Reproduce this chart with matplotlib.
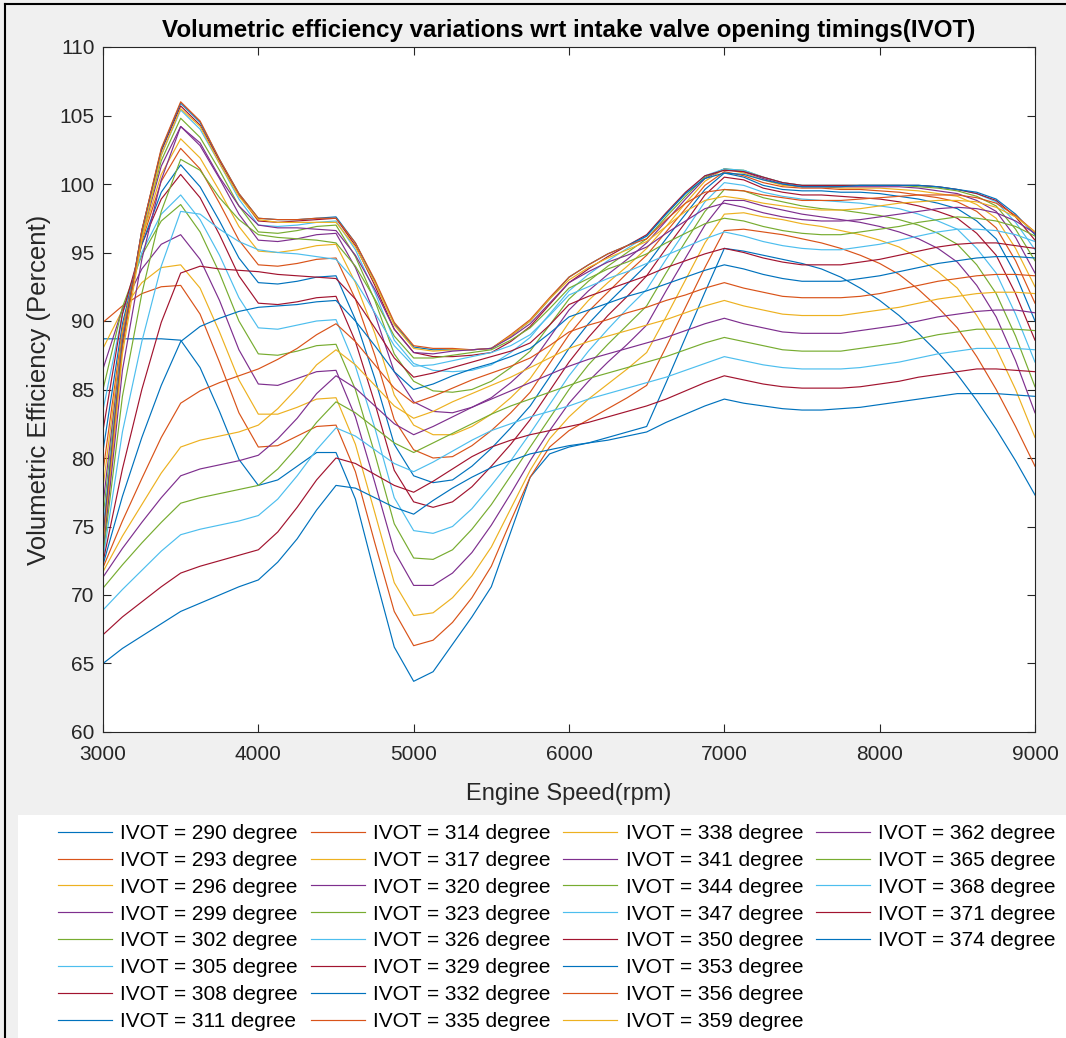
import matplotlib
matplotlib.use("Agg")
import matplotlib.pyplot as plt
from matplotlib.lines import Line2D
from matplotlib.patches import Rectangle

plt.rcParams['font.family'] = ['Liberation Sans', 'DejaVu Sans']

# engine speed grid (rpm), 125 rpm steps
rpm = list(range(3000, 9001, 125))

ivot = list(range(290, 375, 3))

# volumetric efficiency (%) for each intake valve opening timing
ve_290 = [88.7, 88.7, 88.7, 88.7, 88.6, 86.6, 83.4, 79.9, 78.0, 78.4, 79.4, 80.4, 80.4, 77.0, 71.5, 66.2, 63.7,
          64.4, 66.4, 68.4, 70.6, 74.6, 78.6, 80.3, 80.8, 81.1, 81.5, 81.9, 82.3, 85.5, 88.8, 92.1, 95.3,
          95.1, 94.8, 94.5, 94.2, 93.8, 93.2, 92.4, 91.5, 90.4, 89.1, 87.7, 86.1, 84.2, 82.1, 79.8, 77.3]
ve_293 = [89.9, 91.1, 92.0, 92.5, 92.6, 90.5, 87.0, 83.3, 80.8, 80.9, 81.6, 82.3, 82.4, 79.0, 73.8, 68.8, 66.3,
          66.7, 68.0, 69.8, 72.1, 75.4, 78.6, 80.8, 82.0, 82.8, 83.6, 84.4, 85.3, 88.1, 91.0, 93.9, 96.6,
          96.7, 96.5, 96.3, 96.0, 95.7, 95.3, 94.8, 94.2, 93.4, 92.3, 91.0, 89.5, 87.4, 85.0, 82.3, 79.4]
ve_296 = [88.0, 90.8, 92.8, 93.9, 94.1, 92.4, 89.2, 85.7, 83.2, 83.2, 83.7, 84.3, 84.4, 81.0, 76.0, 70.9, 68.5,
          68.7, 69.8, 71.4, 73.5, 76.3, 79.1, 81.4, 83.0, 84.3, 85.4, 86.5, 87.7, 90.3, 93.0, 95.7, 97.8,
          97.9, 97.6, 97.4, 97.1, 96.9, 96.6, 96.3, 95.9, 95.4, 94.6, 93.6, 92.4, 90.4, 88.0, 85.0, 81.5]
ve_299 = [86.5, 90.9, 93.8, 95.6, 96.3, 94.5, 91.5, 87.9, 85.4, 85.3, 85.8, 86.3, 86.4, 83.0, 78.2, 73.2, 70.7,
          70.7, 71.6, 73.1, 75.1, 77.4, 79.8, 82.0, 84.0, 85.6, 87.0, 88.3, 89.7, 92.2, 94.6, 97.0, 98.8,
          98.8, 98.4, 98.1, 97.8, 97.6, 97.4, 97.2, 96.9, 96.5, 96.0, 95.3, 94.3, 92.6, 90.3, 87.1, 83.3]
ve_302 = [85.0, 91.0, 94.8, 97.3, 98.5, 96.5, 93.5, 90.0, 87.6, 87.5, 87.8, 88.2, 88.3, 85.0, 80.3, 75.2, 72.7,
          72.6, 73.3, 74.8, 76.6, 78.7, 80.8, 82.9, 85.0, 86.8, 88.3, 89.7, 91.1, 93.5, 95.8, 98.0, 99.6,
          99.5, 99.0, 98.7, 98.4, 98.2, 98.1, 97.9, 97.7, 97.4, 97.0, 96.4, 95.6, 94.1, 92.0, 88.9, 85.2]
ve_305 = [83.5, 90.5, 95.0, 97.8, 99.2, 97.4, 94.8, 91.7, 89.5, 89.4, 89.7, 90.0, 90.1, 86.7, 82.2, 77.1, 74.7,
          74.5, 75.0, 76.3, 78.0, 79.8, 81.8, 83.9, 86.0, 87.8, 89.4, 90.9, 92.3, 94.5, 96.6, 98.7, 100.1,
          99.9, 99.4, 99.1, 98.9, 98.8, 98.7, 98.6, 98.4, 98.2, 97.8, 97.3, 96.7, 95.3, 93.5, 90.5, 87.0]
ve_308 = [82.0, 90.5, 95.6, 98.9, 100.7, 99.0, 96.3, 93.3, 91.3, 91.2, 91.4, 91.7, 91.8, 88.5, 84.0, 79.1, 76.8,
          76.4, 76.8, 77.9, 79.4, 81.0, 82.8, 84.9, 87.0, 88.8, 90.4, 91.8, 93.3, 95.3, 97.2, 99.2, 100.5,
          100.3, 99.7, 99.4, 99.2, 99.2, 99.1, 99.0, 98.9, 98.7, 98.4, 98.0, 97.5, 96.4, 94.8, 92.0, 88.6]
ve_311 = [80.5, 89.8, 95.6, 99.4, 101.4, 99.8, 97.3, 94.6, 92.8, 92.7, 92.9, 93.2, 93.3, 90.1, 85.8, 81.0, 78.7,
          78.2, 78.4, 79.4, 80.7, 82.2, 83.8, 85.9, 88.0, 89.8, 91.3, 92.7, 94.1, 96.0, 97.8, 99.6, 100.8,
          100.5, 99.9, 99.6, 99.5, 99.5, 99.4, 99.4, 99.3, 99.1, 98.9, 98.6, 98.2, 97.3, 96.0, 93.4, 90.0]
ve_314 = [79.0, 89.4, 95.8, 100.2, 102.6, 101.1, 98.6, 95.9, 94.1, 94.0, 94.2, 94.5, 94.6, 91.6, 87.5, 82.8, 80.6,
          80.0, 80.1, 80.9, 82.0, 83.3, 84.8, 86.9, 89.0, 90.7, 92.1, 93.5, 94.8, 96.5, 98.2, 99.9, 100.9,
          100.6, 100.1, 99.8, 99.7, 99.7, 99.6, 99.6, 99.5, 99.4, 99.2, 99.0, 98.7, 98.0, 96.8, 94.4, 91.3]
ve_317 = [77.8, 89.2, 96.0, 100.7, 103.3, 101.9, 99.5, 96.9, 95.1, 95.0, 95.2, 95.5, 95.6, 92.8, 89.1, 84.6, 82.4,
          81.7, 81.7, 82.3, 83.2, 84.4, 85.8, 87.8, 89.9, 91.5, 92.8, 94.0, 95.3, 96.9, 98.6, 100.2, 101.1,
          100.8, 100.3, 99.9, 99.8, 99.8, 99.7, 99.7, 99.7, 99.6, 99.5, 99.3, 99.1, 98.5, 97.5, 95.3, 92.5]
ve_320 = [76.6, 88.8, 96.2, 101.3, 104.2, 102.8, 100.4, 97.8, 95.9, 95.8, 96.0, 96.3, 96.4, 93.9, 90.5, 86.3, 84.1,
          83.4, 83.3, 83.7, 84.4, 85.5, 86.8, 88.8, 90.8, 92.2, 93.4, 94.5, 95.7, 97.3, 98.9, 100.4, 101.1,
          100.9, 100.4, 100.0, 99.8, 99.8, 99.8, 99.8, 99.8, 99.8, 99.7, 99.5, 99.3, 98.8, 98.0, 96.1, 93.5]
ve_323 = [75.6, 88.6, 96.3, 101.7, 104.8, 103.4, 101.0, 98.4, 96.5, 96.4, 96.6, 96.9, 97.0, 94.7, 91.5, 87.6, 85.6,
          84.9, 84.8, 85.0, 85.6, 86.6, 87.8, 89.7, 91.6, 92.9, 94.0, 95.0, 96.0, 97.6, 99.1, 100.5, 101.1,
          101.0, 100.5, 100.1, 99.9, 99.9, 99.9, 99.9, 99.9, 99.9, 99.8, 99.7, 99.5, 99.1, 98.4, 96.7, 94.4]
ve_326 = [74.8, 88.5, 96.5, 102.1, 105.4, 104.0, 101.5, 98.9, 97.0, 96.9, 97.0, 97.2, 97.3, 95.2, 92.1, 88.6, 86.9,
          86.4, 86.3, 86.4, 86.8, 87.7, 88.8, 90.5, 92.2, 93.4, 94.4, 95.3, 96.2, 97.8, 99.3, 100.6, 101.1,
          101.0, 100.5, 100.1, 99.9, 99.9, 99.9, 99.9, 99.9, 99.9, 99.9, 99.8, 99.6, 99.3, 98.7, 97.2, 95.2]
ve_329 = [74.2, 88.4, 96.6, 102.4, 105.7, 104.3, 101.7, 99.2, 97.3, 97.2, 97.3, 97.4, 97.5, 95.5, 92.6, 89.4, 87.7,
          87.4, 87.4, 87.5, 87.7, 88.5, 89.6, 91.2, 92.8, 93.8, 94.7, 95.5, 96.3, 97.9, 99.4, 100.6, 101.0,
          100.9, 100.5, 100.1, 99.9, 99.9, 99.9, 99.9, 99.9, 99.9, 99.9, 99.8, 99.6, 99.3, 98.8, 97.6, 95.9]
ve_332 = [73.8, 88.2, 96.6, 102.5, 105.9, 104.5, 101.8, 99.3, 97.5, 97.4, 97.4, 97.5, 97.6, 95.7, 92.9, 89.8, 88.1,
          87.9, 87.9, 87.9, 88.0, 88.9, 90.0, 91.6, 93.2, 94.1, 94.9, 95.5, 96.2, 97.8, 99.3, 100.4, 100.8,
          100.7, 100.3, 100.0, 99.8, 99.8, 99.8, 99.9, 99.9, 99.9, 99.9, 99.8, 99.6, 99.4, 98.9, 97.8, 96.3]
ve_335 = [73.5, 88.1, 96.6, 102.6, 106.0, 104.6, 101.8, 99.3, 97.5, 97.4, 97.4, 97.5, 97.5, 95.7, 93.0, 89.9, 88.2,
          88.0, 88.0, 87.9, 88.0, 89.0, 90.1, 91.7, 93.2, 94.1, 94.9, 95.5, 96.0, 97.4, 98.6, 99.4, 99.6,
          99.5, 99.2, 99.0, 98.8, 98.8, 98.8, 98.9, 99.0, 99.1, 99.2, 99.2, 99.2, 99.0, 98.6, 97.7, 96.5]
ve_338 = [73.2, 87.6, 96.0, 102.1, 105.5, 104.2, 101.5, 99.1, 97.4, 97.2, 97.2, 97.2, 97.2, 95.4, 92.8, 89.7, 88.0,
          87.8, 87.9, 87.9, 88.0, 88.9, 90.0, 91.6, 93.0, 93.9, 94.6, 95.2, 95.8, 96.9, 98.0, 98.8, 99.1,
          98.9, 98.6, 98.4, 98.2, 98.1, 98.1, 98.2, 98.4, 98.6, 98.7, 98.8, 98.8, 98.7, 98.3, 97.6, 96.5]
ve_341 = [73.0, 86.4, 94.5, 100.3, 104.2, 103.0, 100.5, 98.4, 97.0, 96.8, 96.8, 96.7, 96.6, 94.8, 92.3, 89.4, 87.7,
          87.6, 87.8, 87.9, 88.0, 88.8, 89.8, 91.3, 92.8, 93.6, 94.3, 94.8, 95.4, 96.4, 97.3, 98.2, 98.6,
          98.3, 97.9, 97.6, 97.4, 97.3, 97.3, 97.4, 97.6, 97.8, 98.0, 98.2, 98.3, 98.2, 97.9, 97.3, 96.4]
ve_344 = [72.8, 84.5, 92.0, 98.0, 101.8, 101.0, 99.0, 97.4, 96.3, 96.1, 96.0, 95.9, 95.7, 94.0, 91.6, 88.9, 87.3,
          87.3, 87.5, 87.7, 87.9, 88.6, 89.5, 90.9, 92.4, 93.1, 93.8, 94.3, 94.9, 95.7, 96.4, 97.1, 97.5,
          97.3, 96.9, 96.6, 96.4, 96.3, 96.3, 96.5, 96.7, 96.9, 97.2, 97.4, 97.6, 97.5, 97.3, 96.9, 96.2]
ve_347 = [72.6, 81.9, 88.5, 94.0, 98.0, 97.8, 96.7, 95.8, 95.2, 95.0, 94.9, 94.7, 94.5, 92.9, 90.6, 88.2, 86.7,
          86.8, 87.1, 87.4, 87.7, 88.2, 89.0, 90.4, 91.9, 92.5, 93.1, 93.6, 94.2, 94.8, 95.4, 96.0, 96.5,
          96.2, 95.8, 95.5, 95.3, 95.2, 95.2, 95.4, 95.6, 95.9, 96.2, 96.5, 96.7, 96.7, 96.6, 96.3, 95.8]
ve_350 = [72.4, 79.2, 85.0, 89.9, 93.5, 94.0, 93.8, 93.7, 93.6, 93.4, 93.3, 93.2, 93.1, 91.6, 89.5, 87.3, 85.9,
          86.2, 86.6, 87.0, 87.4, 87.8, 88.4, 89.7, 91.2, 91.8, 92.3, 92.8, 93.3, 93.9, 94.4, 94.9, 95.3,
          95.0, 94.6, 94.3, 94.1, 94.1, 94.1, 94.3, 94.5, 94.8, 95.1, 95.4, 95.6, 95.7, 95.7, 95.5, 95.3]
ve_353 = [72.2, 77.2, 81.5, 85.3, 88.5, 89.6, 90.2, 90.7, 91.0, 91.1, 91.2, 91.4, 91.5, 90.0, 88.2, 86.3, 85.0,
          85.4, 86.0, 86.5, 86.9, 87.4, 88.0, 89.1, 90.3, 90.8, 91.3, 91.8, 92.2, 92.7, 93.2, 93.7, 94.1,
          93.8, 93.4, 93.1, 92.9, 92.9, 92.9, 93.1, 93.3, 93.6, 93.9, 94.2, 94.4, 94.6, 94.7, 94.7, 94.6]
ve_356 = [72.0, 75.4, 78.5, 81.5, 84.0, 84.9, 85.5, 86.0, 86.5, 87.2, 88.0, 89.0, 89.8, 88.5, 86.8, 85.1, 84.0,
          84.5, 85.1, 85.7, 86.2, 86.7, 87.3, 88.2, 89.2, 89.7, 90.1, 90.6, 91.0, 91.5, 91.9, 92.4, 92.8,
          92.4, 92.1, 91.8, 91.7, 91.7, 91.7, 91.8, 92.0, 92.3, 92.6, 92.9, 93.1, 93.3, 93.4, 93.4, 93.3]
ve_359 = [71.7, 74.3, 76.6, 78.9, 80.8, 81.3, 81.6, 81.9, 82.4, 83.6, 85.1, 86.8, 87.9, 86.8, 85.3, 83.8, 82.9,
          83.4, 84.1, 84.7, 85.3, 85.9, 86.6, 87.3, 88.0, 88.5, 88.9, 89.3, 89.7, 90.1, 90.6, 91.1, 91.5,
          91.1, 90.8, 90.5, 90.4, 90.4, 90.4, 90.6, 90.8, 91.0, 91.3, 91.6, 91.8, 92.0, 92.1, 92.1, 92.0]
ve_362 = [71.3, 73.4, 75.3, 77.1, 78.7, 79.2, 79.5, 79.8, 80.2, 81.4, 82.9, 84.7, 86.0, 85.1, 83.8, 82.5, 81.7,
          82.3, 83.0, 83.7, 84.3, 84.9, 85.5, 86.1, 86.7, 87.2, 87.6, 88.0, 88.4, 88.8, 89.3, 89.8, 90.2,
          89.8, 89.5, 89.2, 89.1, 89.1, 89.1, 89.3, 89.5, 89.7, 90.0, 90.3, 90.5, 90.7, 90.8, 90.8, 90.6]
ve_365 = [70.5, 72.2, 73.8, 75.3, 76.7, 77.1, 77.4, 77.7, 78.0, 79.2, 80.8, 82.6, 84.1, 83.3, 82.2, 81.1, 80.4,
          81.1, 81.8, 82.5, 83.2, 83.8, 84.3, 84.8, 85.3, 85.8, 86.2, 86.6, 87.0, 87.4, 87.9, 88.4, 88.8,
          88.5, 88.2, 87.9, 87.8, 87.8, 87.8, 88.0, 88.2, 88.4, 88.7, 89.0, 89.2, 89.4, 89.4, 89.4, 89.3]
ve_368 = [68.9, 70.4, 71.8, 73.2, 74.4, 74.8, 75.1, 75.4, 75.8, 77.0, 78.7, 80.6, 82.2, 81.6, 80.6, 79.6, 79.0,
          79.7, 80.5, 81.3, 82.0, 82.5, 83.0, 83.4, 83.8, 84.3, 84.7, 85.1, 85.5, 85.9, 86.4, 86.9, 87.4,
          87.1, 86.8, 86.6, 86.5, 86.5, 86.5, 86.6, 86.8, 87.0, 87.3, 87.6, 87.8, 88.0, 88.0, 88.0, 87.9]
ve_371 = [67.1, 68.4, 69.5, 70.6, 71.6, 72.1, 72.5, 72.9, 73.3, 74.6, 76.4, 78.4, 80.0, 79.6, 78.8, 78.0, 77.5,
          78.3, 79.2, 80.1, 80.8, 81.3, 81.7, 82.0, 82.3, 82.6, 83.0, 83.4, 83.8, 84.3, 84.9, 85.5, 86.0,
          85.7, 85.4, 85.2, 85.1, 85.1, 85.1, 85.2, 85.4, 85.6, 85.9, 86.1, 86.3, 86.5, 86.5, 86.4, 86.3]
ve_374 = [65.0, 66.1, 67.0, 67.9, 68.8, 69.4, 70.0, 70.6, 71.1, 72.4, 74.1, 76.2, 78.0, 77.8, 77.1, 76.4, 75.9,
          76.9, 77.8, 78.6, 79.3, 79.8, 80.3, 80.6, 80.9, 81.1, 81.3, 81.6, 81.9, 82.6, 83.2, 83.8, 84.3,
          84.0, 83.8, 83.6, 83.5, 83.5, 83.6, 83.7, 83.9, 84.1, 84.3, 84.5, 84.7, 84.7, 84.7, 84.6, 84.5]

series = [ve_290, ve_293, ve_296, ve_299, ve_302, ve_305, ve_308, ve_311, ve_314, ve_317,
          ve_320, ve_323, ve_326, ve_329, ve_332, ve_335, ve_338, ve_341, ve_344, ve_347,
          ve_350, ve_353, ve_356, ve_359, ve_362, ve_365, ve_368, ve_371, ve_374]
assert all(len(s) == len(rpm) for s in series), [len(s) for s in series]

# default MATLAB line colour order
colors = ['#0072bd', '#d95319', '#edb120', '#7e2f8e', '#77ac30', '#4dbeee', '#a2142f']

W, H = 1066, 1038
fig = plt.figure(figsize=(W / 100, H / 100), dpi=100)
fig.patch.set_facecolor('#f0f0f0')

# white panel behind the legend and the outer frame lines
fig.add_artist(Rectangle((18 / W, 0), 1, (H - 815) / H, transform=fig.transFigure,
                         facecolor='white', edgecolor='none', zorder=0))
fig.add_artist(Line2D([5 / W, 5 / W], [0, 1 - 4 / H], transform=fig.transFigure,
                      color='black', lw=1.5))
fig.add_artist(Line2D([5 / W, 1], [1 - 4 / H, 1 - 4 / H], transform=fig.transFigure,
                      color='black', lw=1.5))

ax = fig.add_axes([103 / W, 1 - 732 / H, (1035 - 103) / W, (732 - 47) / H])
ax.set_facecolor('white')

handles = []
for i, (iv, ve) in enumerate(zip(ivot, series)):
    h, = ax.plot(rpm, ve, color=colors[i % 7], lw=0.85, label=f'IVOT = {iv} degree')
    handles.append(h)

ax.set_xlim(3000, 9000)
ax.set_ylim(60, 110)
ax.set_xticks(range(3000, 9001, 1000))
ax.set_yticks(range(60, 111, 5))
ax.tick_params(direction='in', top=True, right=True, length=6, width=0.8,
               labelsize=15, colors='#262626')
ax.tick_params(axis='x', pad=9)
ax.tick_params(axis='y', pad=6)
for s in ax.spines.values():
    s.set_color('#262626')
    s.set_linewidth(0.8)

ax.set_title('Volumetric efficiency variations wrt intake valve opening timings(IVOT)',
             fontsize=17.4, fontweight='bold', pad=7)
ax.set_xlabel('Engine Speed(rpm)', fontsize=17, color='#262626', labelpad=14)
ax.set_ylabel('Volumetric Efficiency (Percent)', fontsize=18.5, color='#262626', labelpad=6)

# pad the last column with blank entries so columns hold 8, 8, 8, 5 items
blank = [Line2D([], [], color='none') for _ in range(3)]
leg = fig.legend(handles + blank, [h.get_label() for h in handles] + [''] * 3,
                 ncol=4, loc='upper left', bbox_to_anchor=(58 / W, 1 - 824 / H),
                 frameon=False, fontsize=15, handlelength=2.6, handletextpad=0.4,
                 columnspacing=0.6, labelspacing=0.376, borderpad=0, borderaxespad=0)

fig.savefig('out.png', dpi=100, facecolor=fig.get_facecolor())
